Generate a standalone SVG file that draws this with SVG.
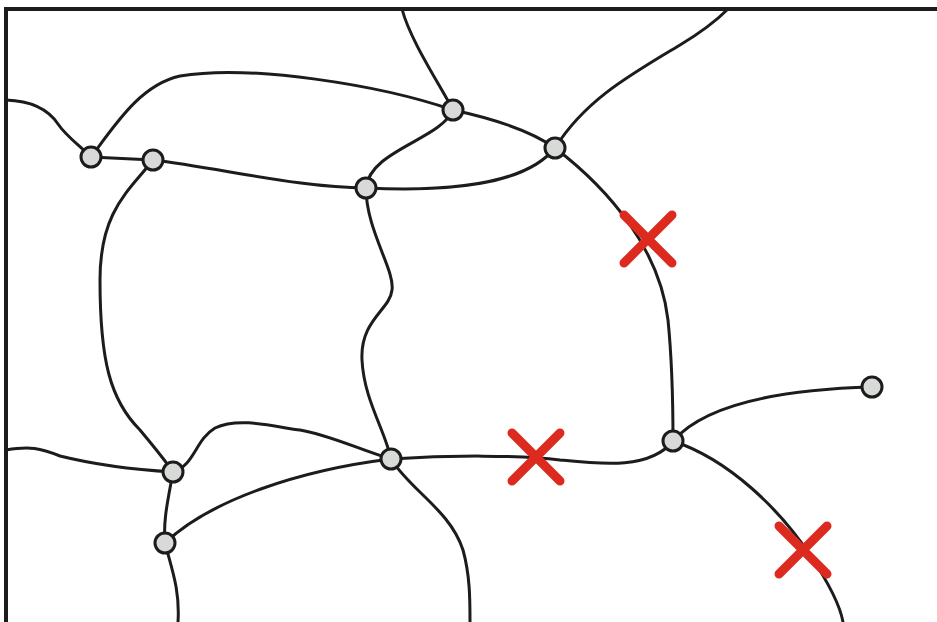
<svg xmlns="http://www.w3.org/2000/svg" width="937" height="622" viewBox="0 0 937 622">
<style>
.e{fill:none;stroke:#1c1c1c;stroke-width:3;stroke-linecap:round}
.n{fill:#d8dad8;stroke:#1c1c1c;stroke-width:3}
.x{stroke:#dd2a1e;stroke-width:9;stroke-linecap:round}
</style>
<rect width="937" height="622" fill="#fff"/>
<path d="M6,622 L6,9 L937,9" fill="none" stroke="#1c1c1c" stroke-width="4"/>
<g id="connectors">
<path class="e" d="M6,100 C35,101 50,112 58,124 C66,136 80,146 91,157"/>
<path class="e" d="M91,157 C115,125 140,85 180,76 C250,64 380,85 453,110"/>
<path class="e" d="M91,157 L153,160"/>
<path class="e" d="M153,160 C220,168 300,188 366,188"/>
<path class="e" d="M366,188 C450,192 525,185 555,148"/>
<path class="e" d="M366,188 C370,150 440,140 453,110"/>
<path class="e" d="M453,110 C490,118 530,130 555,148"/>
<path class="e" d="M402,9 C410,40 440,85 453,110"/>
<path class="e" d="M555,148 C585,100 630,75 680,45 C700,33 715,22 728,9"/>
<path class="e" d="M555,148 C610,190 660,250 668,320 C673,370 673,420 673,441"/>
<path class="e" d="M153,160 C130,190 100,210 100,280 C100,360 110,400 140,430 C155,448 165,460 173,472"/>
<path class="e" d="M173,472 C195,465 195,440 215,428 C240,416 280,428 300,430 C330,435 360,450 391,459"/>
<path class="e" d="M6,450 C30,446 40,448 60,456 C100,466 140,470 173,472"/>
<path class="e" d="M173,472 C168,500 163,520 165,543"/>
<path class="e" d="M165,543 C210,500 300,470 391,459"/>
<path class="e" d="M165,543 C172,570 180,590 178,622"/>
<path class="e" d="M366,188 C366,230 395,270 392,290 C390,310 360,320 362,360 C364,400 385,430 391,459"/>
<path class="e" d="M391,459 C450,455 520,455 560,460 C600,464 650,470 673,441"/>
<path class="e" d="M391,459 C410,490 450,510 463,550 C470,575 470,600 470,622"/>
<path class="e" d="M673,441 C700,410 760,390 872,387"/>
<path class="e" d="M673,441 C730,460 780,510 810,555 C830,585 840,605 843,622"/>
</g>
<g id="nA"><circle class="n" cx="91" cy="157" r="10"/></g>
<g id="nB"><circle class="n" cx="153" cy="160" r="10"/></g>
<g id="nC"><circle class="n" cx="453" cy="110" r="10"/></g>
<g id="nD"><circle class="n" cx="555" cy="148" r="10"/></g>
<g id="nE"><circle class="n" cx="366" cy="188" r="10"/></g>
<g id="nF"><circle class="n" cx="173" cy="472" r="10"/></g>
<g id="nG"><circle class="n" cx="165" cy="543" r="10"/></g>
<g id="nH"><circle class="n" cx="391" cy="459" r="10"/></g>
<g id="nI"><circle class="n" cx="673" cy="441" r="10"/></g>
<g id="nJ"><circle class="n" cx="872" cy="387" r="10"/></g>
<g id="x1"><path class="x" d="M624,215 L672,263 M672,215 L624,263"/></g>
<g id="x2"><path class="x" d="M512,433 L560,481 M560,433 L512,481"/></g>
<g id="x3"><path class="x" d="M779,526 L827,574 M827,526 L779,574"/></g>
</svg>
